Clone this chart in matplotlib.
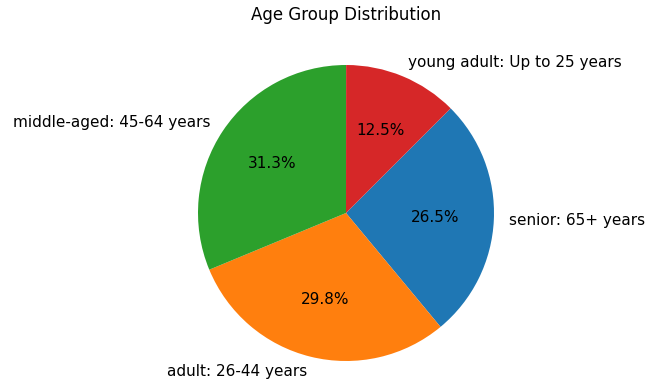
import matplotlib.pyplot as plt

labels = ['senior: 65+ years', 'adult: 26-44 years', 'middle-aged: 45-64 years', 'young adult: Up to 25 years']
values = [26.5, 29.8, 31.3, 12.5]
colors = ['#1f77b4', '#ff7f0e', '#2ca02c', '#d62728']

fig = plt.figure(figsize=(6.61, 3.87), dpi=100)
ax = fig.add_axes([161 / 661, -11 / 387, 370 / 661, 370 / 387])
ax.pie(values, labels=labels, colors=colors, autopct='%1.1f%%',
       startangle=45, counterclock=False, textprops={'fontsize': 11})
ax.set_xlim(-1.25, 1.25)
ax.set_ylim(-1.25, 1.25)
ax.set_aspect('equal')
ax.set_title('Age Group Distribution', fontsize=12)
fig.savefig('out.png', dpi=100)
